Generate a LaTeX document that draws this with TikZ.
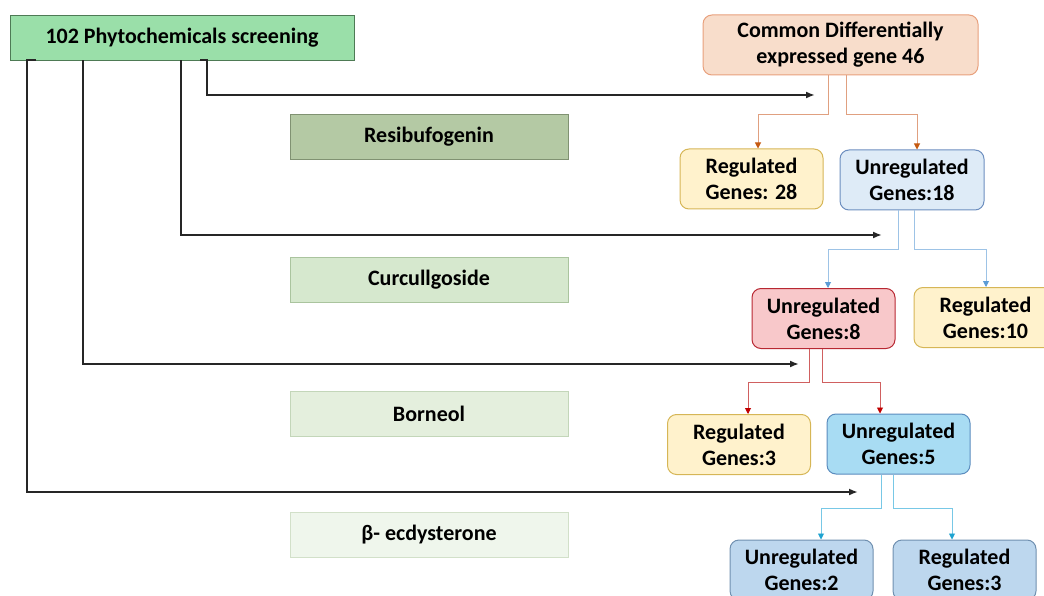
\documentclass[tikz,border=0pt]{standalone}
\usepackage{fontspec}
\setmainfont{Carlito}
\usetikzlibrary{arrows.meta}
\definecolor{inkline}{HTML}{262626}
\definecolor{topdraw}{RGB}{78,122,85}
\definecolor{topfill}{RGB}{154,223,169}
\definecolor{resdraw}{RGB}{128,146,114}
\definecolor{resfill}{RGB}{180,201,164}
\definecolor{curdraw}{RGB}{170,196,158}
\definecolor{curfill}{RGB}{214,232,206}
\definecolor{bordraw}{RGB}{195,214,185}
\definecolor{borfill}{RGB}{228,239,221}
\definecolor{ecddraw}{RGB}{210,224,201}
\definecolor{ecdfill}{RGB}{239,246,236}
\definecolor{peachdraw}{RGB}{232,160,124}
\definecolor{peachfill}{RGB}{248,221,203}
\definecolor{yeldraw}{RGB}{214,182,86}
\definecolor{yelfill}{RGB}{255,242,204}
\definecolor{paledraw}{RGB}{108,142,191}
\definecolor{palefill}{RGB}{222,235,247}
\definecolor{pinkdraw}{RGB}{184,40,50}
\definecolor{pinkfill}{RGB}{248,200,202}
\definecolor{skydraw}{RGB}{91,140,190}
\definecolor{skyfill}{RGB}{168,220,243}
\definecolor{steeldraw}{RGB}{112,144,176}
\definecolor{steelfill}{RGB}{189,215,238}
\definecolor{orline}{RGB}{224,160,128}
\definecolor{ortip}{RGB}{197,90,17}
\definecolor{blline}{RGB}{157,195,230}
\definecolor{bltip}{RGB}{91,155,213}
\definecolor{rdline}{RGB}{208,96,96}
\definecolor{rdtip}{RGB}{192,0,0}
\definecolor{cyline}{RGB}{120,200,230}
\definecolor{cytip}{RGB}{31,163,208}
\begin{document}
\begin{tikzpicture}[x=1pt,y=-1pt,
  lbl/.style={font=\bfseries\fontsize{22}{26}\selectfont, align=center, inner sep=0pt, text=black},
  leftbox/.style={lbl, draw, line width=0.8pt, minimum width=278pt, minimum height=45pt},
  genebox/.style={lbl, draw, line width=1pt, rounded corners=9pt, minimum width=143pt, minimum height=60pt},
  feed/.style={draw=inkline, line width=1.8pt, -{Latex[length=9pt,width=7pt]}},
  branch/.style 2 args={draw=#1, line width=0.9pt, -{Triangle[length=6pt,width=6pt,color=#2]}}
]
\useasboundingbox (0,0) rectangle (1044,596);
\clip (0,0) rectangle (1044,596);

% screening box and compound list
\node[lbl, draw=topdraw, fill=topfill, line width=0.8pt, minimum width=344pt, minimum height=45pt] (top) at (182,37.5) {102 Phytochemicals screening};
\node[leftbox, draw=resdraw, fill=resfill] (res) at (429,136.5) {Resibufogenin};
\node[leftbox, draw=curdraw, fill=curfill] (cur) at (429,279.5) {Curcullgoside};
\node[leftbox, draw=bordraw, fill=borfill] (bor) at (429,413.5) {Borneol};
\node[leftbox, draw=ecddraw, fill=ecdfill] (ecd) at (429,534.5) {β- ecdysterone};

% gene tree
\node[genebox, minimum width=275pt, draw=peachdraw, fill=peachfill] (cde) at (840.5,45) {Common Differentially\\expressed gene 46};
\node[genebox, draw=yeldraw, fill=yelfill] (r28) at (751.5,179) {Regulated\\Genes: 28};
\node[genebox, minimum width=144pt, draw=paledraw, fill=palefill] (u18) at (912,180) {Unregulated\\Genes:18};
\node[genebox, draw=pinkdraw, fill=pinkfill] (u8) at (823.5,318.5) {Unregulated\\Genes:8};
\node[genebox, draw=yeldraw, fill=yelfill] (r10) at (985.5,317.5) {Regulated\\Genes:10};
\node[genebox, draw=yeldraw, fill=yelfill] (r3) at (739,444.5) {Regulated\\Genes:3};
\node[genebox, draw=skydraw, fill=skyfill] (u5) at (898.5,444) {Unregulated\\Genes:5};
\node[genebox, draw=steeldraw, fill=steelfill] (u2) at (801.5,570) {Unregulated\\Genes:2};
\node[genebox, draw=steeldraw, fill=steelfill] (r3b) at (964.5,570) {Regulated\\Genes:3};

% free ends of the screening arrows
\coordinate (e1) at (815,95);
\coordinate (e2) at (882,235);
\coordinate (e3) at (799,364);
\coordinate (e4) at (858,492);

\draw[feed] ([xshift=18pt]top.south) -- ++(7,0) |- (e1);
\draw[feed] ([xshift=-1pt]top.south) |- (e2);
\draw[feed] ([xshift=-99pt]top.south) |- (e3);
\draw[feed] ([xshift=-146pt]top.south) -- ++(-9,0) |- (e4);

% branches
\draw[branch={orline}{ortip}] ([xshift=-12.5pt]cde.south) -- ++(0,39) -| ([xshift=6.5pt]r28.north);
\draw[branch={orline}{ortip}] ([xshift=5.5pt]cde.south) -- ++(0,39) -| ([xshift=5pt]u18.north);

\draw[branch={blline}{bltip}] ([xshift=-14pt]u18.south) -- ++(0,39) -| ([xshift=4.5pt]u8.north);
\draw[branch={blline}{bltip}] ([xshift=2pt]u18.south) -- ++(0,39) -| ([xshift=0.5pt]r10.north);

\draw[branch={rdline}{rdtip}] ([xshift=-14.5pt]u8.south) -- ++(0,33) -| ([xshift=9pt]r3.north);
\draw[branch={rdline}{rdtip}] ([xshift=-1.5pt]u8.south) -- ++(0,33) -| ([xshift=-18.5pt]u5.north);

\draw[branch={cyline}{cytip}] ([xshift=-17.5pt]u5.south) -- ++(0,34) -| ([xshift=19.5pt]u2.north);
\draw[branch={cyline}{cytip}] ([xshift=-5.5pt]u5.south) -- ++(0,34) -| ([xshift=-12.5pt]r3b.north);
\end{tikzpicture}
\end{document}
